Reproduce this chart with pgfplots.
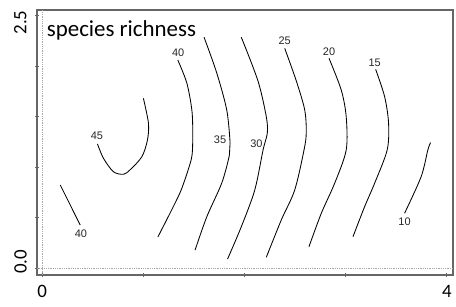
\documentclass[border=0pt]{standalone}
\usepackage{pgfplots}
\pgfplotsset{compat=1.18}
\usepackage{fontspec}
\setmainfont{Carlito}
\newfontfamily\arialf{Liberation Sans}
\begin{document}
\begin{tikzpicture}
\useasboundingbox (-37bp,-32bp) rectangle (419bp,275bp);
\begin{axis}[
  at={(0,0)}, anchor=south west,
  scale only axis, width=416bp, height=265bp,
  xmin=-0.052, xmax=4.061, ymin=-0.066, ymax=2.557,
  axis line style={draw=black!60, line width=1.1bp},
  xtick={0,1,2,3,4}, xticklabels={0,,,,4},
  ytick={0,0.5,1,1.5,2,2.5}, yticklabels={},
  tick pos=left,
  tick style={draw=black!60, line width=0.9bp},
  tick align=center, major tick length=4bp,
  xticklabel style={font=\fontsize{19}{19}\selectfont, anchor=north, inner sep=0pt, yshift=-8bp},
  clip=false,
]
% reference lines
\addplot[black!35, densely dotted, line width=0.8bp] coordinates {(0,-0.066) (0,2.557)};
\addplot[black!35, densely dotted, line width=0.8bp] coordinates {(-0.052,0) (4.061,0)};
% contour 45
\addplot[black, line width=0.85bp, smooth, tension=0.5] coordinates {
(1.000,1.683) (1.050,1.436) (1.040,1.270) (0.985,1.105) (0.869,0.976) (0.803,0.931) (0.704,0.956) (0.605,1.089) (0.546,1.231)};
% contour 40 left
\addplot[black, line width=0.85bp] coordinates {(0.178,0.825) (0.375,0.429)};
% contour 40 middle
\addplot[black, line width=0.85bp, smooth, tension=0.5] coordinates {
(1.340,2.062) (1.429,1.835) (1.479,1.567) (1.488,1.340) (1.481,1.122) (1.442,0.973) (1.373,0.775) (1.294,0.607) (1.143,0.310)};
% contour 35
\addplot[black, line width=0.85bp, smooth, tension=0.5] coordinates {
(1.600,2.287) (1.725,1.934) (1.824,1.567) (1.857,1.241) (1.850,1.120) (1.775,0.845) (1.627,0.511) (1.511,0.181)};
% contour 30
\addplot[black, line width=0.85bp, smooth, tension=0.5] coordinates {
(1.968,2.287) (2.133,1.854) (2.215,1.501) (2.225,1.340) (2.183,1.171) (2.101,0.775) (1.968,0.412) (1.832,0.092)};
% contour 25
\addplot[black, line width=0.85bp, smooth, tension=0.5] coordinates {
(2.397,2.178) (2.512,1.854) (2.595,1.567) (2.610,1.340) (2.588,1.171) (2.496,0.775) (2.363,0.478) (2.215,0.109)};
% contour 20
\addplot[black, line width=0.85bp, smooth, tension=0.5] coordinates {
(2.835,2.079) (2.956,1.765) (3.005,1.501) (3.005,1.171) (2.891,0.842) (2.759,0.545) (2.637,0.214)};
% contour 15
\addplot[black, line width=0.85bp, smooth, tension=0.5] coordinates {
(3.296,1.970) (3.385,1.699) (3.424,1.436) (3.410,1.171) (3.286,0.842) (3.187,0.610) (3.072,0.313)};
% contour 10
\addplot[black, line width=0.85bp, smooth, tension=0.5] coordinates {
(3.839,1.244) (3.812,1.171) (3.746,0.907) (3.582,0.545)};
% contour labels
\begin{scope}[every node/.style={font=\arialf\fontsize{11}{11}\selectfont, inner sep=0pt, text=black!85}]
\node at (axis cs:0.540,1.310) {45};
\node at (axis cs:0.382,0.347) {40};
\node at (axis cs:1.343,2.131) {40};
\node at (axis cs:1.758,1.270) {35};
\node at (axis cs:2.117,1.238) {30};
\node at (axis cs:2.397,2.253) {25};
\node at (axis cs:2.835,2.145) {20};
\node at (axis cs:3.286,2.036) {15};
\node at (axis cs:3.582,0.461) {10};
\end{scope}
% title
\node[anchor=base west, inner sep=0pt, font=\fontsize{23}{23}\selectfont] at (axis cs:0.0435,2.293) {species richness};
% y tick labels
\node[rotate=90, anchor=base, inner sep=0pt, font=\fontsize{19}{19}\selectfont] at (axis cs:-0.154,0.065) {0.0};
\node[rotate=90, anchor=base, inner sep=0pt, font=\fontsize{19}{19}\selectfont] at (axis cs:-0.158,2.434) {2.5};
\end{axis}
\end{tikzpicture}
\end{document}
